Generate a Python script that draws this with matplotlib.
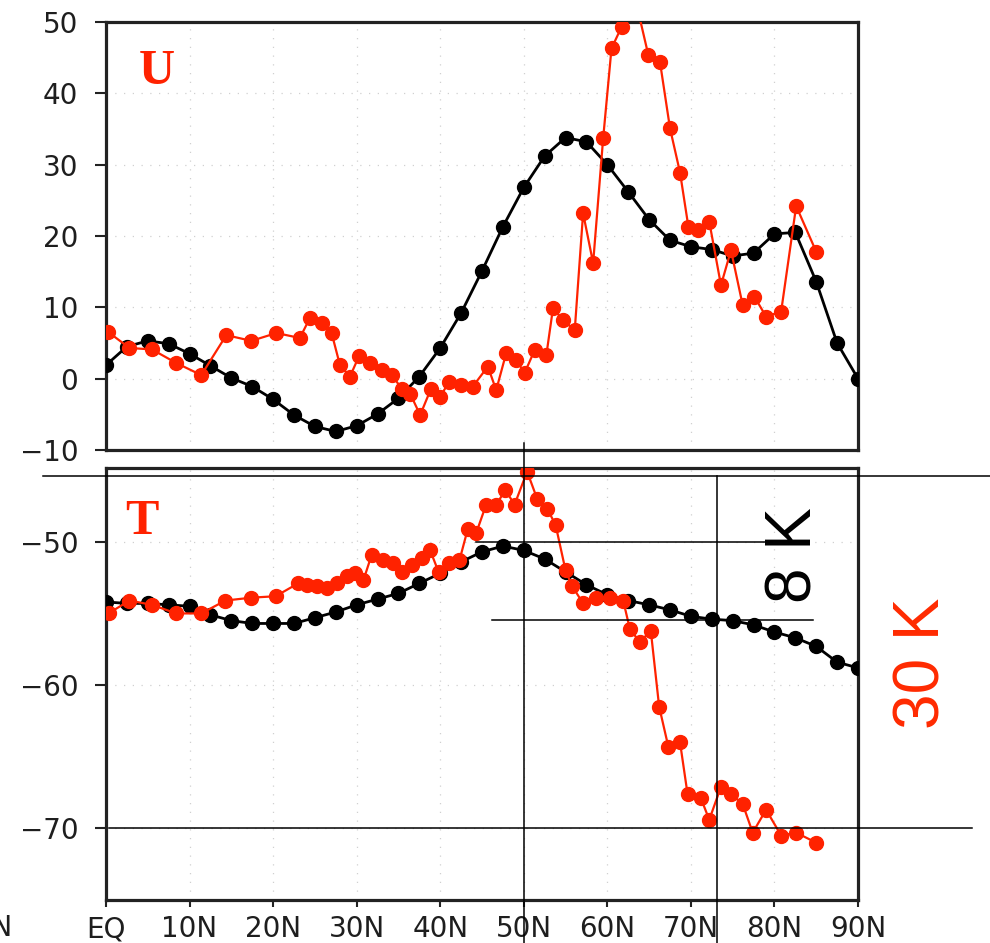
import matplotlib
matplotlib.use("Agg")
import matplotlib.pyplot as plt

# ---------------- data ----------------
lat_model = [i * 2.5 for i in range(37)]
u_model = [1.9, 4.5, 5.3, 4.9, 3.5, 1.8, 0.1, -1.1, -2.9, -5.1, -6.7, -7.4, -6.6,
           -4.95, -2.75, 0.3, 4.3, 9.2, 15.1, 21.3, 26.8, 31.2, 33.8, 33.2, 30.0,
           26.2, 22.3, 19.4, 18.5, 18.1, 17.2, 17.6, 20.3, 20.5, 13.6, 5.0, 0.0]
t_model = [-54.2, -54.3, -54.3, -54.4, -54.5, -55.1, -55.5, -55.7, -55.7, -55.7,
           -55.3, -54.9, -54.4, -54.0, -53.6, -52.9, -52.2, -51.4, -50.7, -50.3,
           -50.6, -51.2, -52.1, -53.0, -53.7, -54.1, -54.4, -54.75, -55.2, -55.4,
           -55.5, -55.8, -56.3, -56.7, -57.3, -58.4, -58.8]

lat_obs_u = [0.2, 2.8, 5.5, 8.4, 11.4, 14.4, 17.4, 20.4, 23.2, 24.4, 25.8, 27.0,
             28.0, 29.2, 30.3, 31.6, 33.0, 34.2, 35.4, 36.4, 37.6, 38.9, 40.0,
             41.1, 42.5, 43.9, 45.7, 46.7, 47.9, 49.1, 50.1, 51.3, 52.7, 53.5,
             54.7, 56.1, 57.1, 58.3, 59.5, 60.5, 61.7, 62.8, 64.9, 66.3, 67.5,
             68.7, 69.7, 70.9, 72.2, 73.6, 74.8, 76.2, 77.6, 79.0, 80.8, 82.6, 85.0]
u_obs = [6.6, 4.3, 4.1, 2.2, 0.5, 6.1, 5.3, 6.4, 5.7, 8.5, 7.8, 6.4, 1.9, 0.3,
         3.2, 2.2, 1.2, 0.5, -1.4, -2.1, -5.1, -1.4, -2.5, -0.4, -0.9, -1.1, 1.7,
         -1.6, 3.6, 2.6, 0.8, 4.0, 3.3, 9.9, 8.2, 6.8, 23.2, 16.2, 33.7, 46.3,
         49.3, 56.0, 45.4, 44.4, 35.1, 28.9, 21.3, 20.8, 22.0, 13.1, 18.0, 10.3,
         11.5, 8.7, 9.4, 24.2, 17.8]

lat_obs_t = [0.3, 2.8, 5.5, 8.4, 11.4, 14.3, 17.4, 20.3, 23.0, 24.1, 25.2, 26.4,
             27.6, 28.8, 29.8, 30.8, 31.8, 33.1, 34.3, 35.4, 36.6, 37.8, 38.8,
             39.8, 41.0, 42.3, 43.3, 44.3, 45.5, 46.7, 47.8, 48.9, 50.4, 51.6,
             52.8, 53.8, 55.0, 55.8, 57.1, 58.7, 60.3, 61.9, 62.7, 63.9, 65.2,
             66.2, 67.3, 68.7, 69.6, 71.2, 72.2, 73.6, 74.8, 76.2, 77.4, 79.0,
             80.8, 82.6, 85.0]
t_obs = [-55.0, -54.1, -54.4, -55.0, -55.0, -54.1, -53.9, -53.8, -52.9, -53.0,
         -53.1, -53.2, -52.9, -52.4, -52.2, -52.7, -50.9, -51.3, -51.5, -52.1,
         -51.6, -51.1, -50.6, -52.1, -51.5, -51.3, -49.1, -49.4, -47.4, -47.4,
         -46.4, -47.4, -45.1, -47.0, -47.7, -48.8, -52.0, -53.1, -54.3, -53.9,
         -53.9, -54.1, -56.1, -57.0, -56.2, -61.5, -64.3, -64.0, -67.6, -67.9,
         -69.4, -67.1, -67.6, -68.3, -70.3, -68.7, -70.5, -70.3, -71.0]

x_ticks = [0, 10, 20, 30, 40, 50, 60, 70, 80, 90]
x_ticklabels = ["EQ", "10N", "20N", "30N", "40N", "50N", "60N", "70N", "80N", "90N"]
u_ticks = [-10, 0, 10, 20, 30, 40, 50]
t_ticks = [-70, -60, -50]

RED = "#ff2200"
TXT = "#1e1e1e"

# ---------------- figure ----------------
W, H = 990, 943
fig = plt.figure(figsize=(W / 100, H / 100), dpi=100)
fig.patch.set_facecolor("white")

def px_axes(l, t, r, b):
    return fig.add_axes([l / W, 1 - b / H, (r - l) / W, (b - t) / H])

ax1 = px_axes(106, 22, 858, 450)
ax2 = px_axes(106, 468, 858, 900)

for ax in (ax1, ax2):
    ax.set_xlim(0, 90)
    for s in ax.spines.values():
        s.set_linewidth(2.3)
        s.set_color("#222222")
    ax.grid(True, color="#d0d0d0", linestyle=(0, (1, 6)), linewidth=0.9)
    ax.set_axisbelow(True)
    ax.set_xticks(x_ticks)
    ax.tick_params(axis="y", direction="out", length=8, width=1.5, pad=12,
                   labelsize=20, labelcolor=TXT, color="#222222")
    ax.tick_params(axis="x", direction="out", length=5, width=1.5, pad=6,
                   labelsize=20, labelcolor=TXT, color="#222222")

# U panel
ax1.set_ylim(-10, 50)
ax1.set_yticks(u_ticks)
ax1.tick_params(axis="x", length=0, labelbottom=False)
ax1.plot(lat_model, u_model, color="black", lw=2.0, marker="o", ms=10, zorder=3)
ax1.plot(lat_obs_u, u_obs, color=RED, lw=1.6, marker="o", ms=10, zorder=4)
ax1.text(6.1, 43, "U", color=RED, fontsize=36, fontweight="bold",
         family="Liberation Serif", ha="center", va="center")

# T panel
ax2.set_ylim(-75, -44.85)
ax2.set_yticks(t_ticks)
ax2.set_xticklabels(x_ticklabels)
ax2.plot(lat_model, t_model, color="black", lw=2.0, marker="o", ms=10, zorder=3)
ax2.plot(lat_obs_t, t_obs, color=RED, lw=1.6, marker="o", ms=10, zorder=4)
ax2.text(4.3, -48.6, "T", color=RED, fontsize=36, fontweight="bold",
         family="Liberation Serif", ha="center", va="center")

# annotation lines (bottom panel data coordinates, unclipped)
ann = dict(color="black", lw=1.1, clip_on=False, zorder=6)
ax2.plot([-7.5, 106.0], [-45.4, -45.4], **ann)
ax2.plot([50, 50], [-43.1, -78.1], **ann)
ax2.plot([73.1, 73.1], [-45.4, -78.1], **ann)
ax2.plot([44.3, 79.7], [-50.0, -50.0], **ann)
ax2.plot([46.2, 84.6], [-55.45, -55.45], **ann)
ax2.plot([0.3, 103.7], [-70.0, -70.0], **ann)

ax2.text(82.4, -50.9, "8 K", rotation=90, color="black", fontsize=46,
         family="Liberation Sans", ha="center", va="center", clip_on=False)
ax2.text(97.7, -58.5, "30 K", rotation=90, color="#ff2a00", fontsize=46,
         family="Liberation Sans", ha="center", va="center", clip_on=False)

# clipped label from neighbouring panel at the left edge (cut off as in the reference)
fig.text(12 / W, 1 - 928 / H, "90N", fontsize=20, color=TXT, ha="right", va="center")

fig.savefig("out.png", dpi=100, facecolor="white")
